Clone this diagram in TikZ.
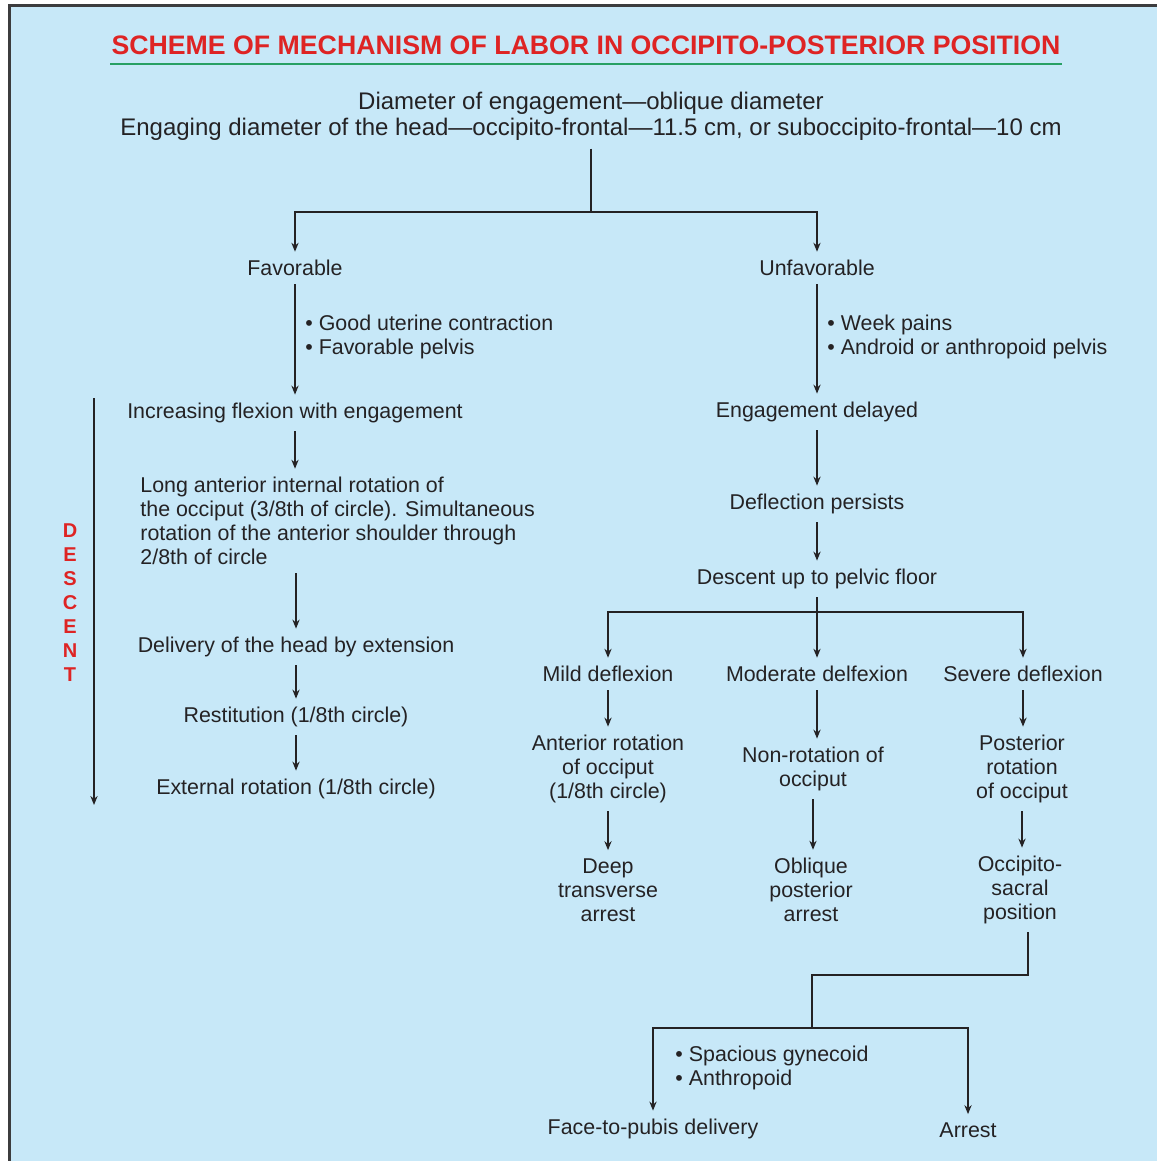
\documentclass[tikz,border=0pt]{standalone}
\usepackage{fontspec}
\setmainfont{Liberation Sans}
\usetikzlibrary{arrows.meta}
\definecolor{bg}{RGB}{199,232,248}
\definecolor{ink}{RGB}{36,34,36}
\definecolor{titlered}{RGB}{222,36,36}
\definecolor{rulegreen}{RGB}{40,160,100}
\definecolor{frame}{RGB}{60,60,62}
\tikzset{txt/.style={text=ink,inner sep=4pt,font=\fontsize{10.7}{12}\selectfont},
  ln/.style={draw=ink,line width=0.8pt}}

\begin{document}
\begin{tikzpicture}[x=0.5pt,y=-0.5pt,>={Stealth[length=4.5pt,width=3.6pt]},every node/.style={txt}]
\useasboundingbox (0,0) rectangle (1157,1161);
\fill[white] (0,0) rectangle (1157,1161); \fill[bg] (9,6) rectangle (1157,1161);
\draw[frame,line width=1.5pt] (9,1161) -- (9,6) -- (1157,6);
\node[font=\fontsize{13.35}{16}\selectfont\bfseries,text=titlered] (title) at (586,45) {SCHEME OF MECHANISM OF LABOR IN OCCIPITO-POSTERIOR POSITION};
\draw[rulegreen,line width=1pt] (110,64) -- (1062,64);
\node[align=center,font=\fontsize{12}{13}\selectfont] (diam) at (591,116) {Diameter of engagement—oblique diameter\\Engaging diameter of the head—occipito-frontal—11.5 cm, or suboccipito-frontal—10 cm};
\node (fav) at (295,268) {Favorable}; \node (unfav) at (817,268) {Unfavorable};
\node[anchor=west,align=left] (goodp) at (297,337) {• Good uterine contraction\\• Favorable pelvis};
\node[anchor=west,align=left] (badp) at (819,337) {• Week pains\\• Android or anthropoid pelvis};
\node (incr) at (295,413) {Increasing flexion with engagement};
\node[anchor=west,align=left] (long) at (132,521) {Long anterior internal rotation of\\the occiput (3/8th of circle). Simultaneous\\rotation of the anterior shoulder through\\2/8th of circle};
\node (dlv) at (296,647) {Delivery of the head by extension};
\node (rest) at (296,717) {Restitution (1/8th circle)};
\node (ext) at (296,789) {External rotation (1/8th circle)};
\node[font=\fontsize{10}{12}\selectfont\bfseries,text=titlered,align=center] (descent) at (70,603) {D\\E\\S\\C\\E\\N\\T};
\node (eng) at (817,412) {Engagement delayed}; \node (defl) at (817,504) {Deflection persists};
\node (desc) at (817,579) {Descent up to pelvic floor};
\node (mild) at (608,674) {Mild deflexion}; \node (mod) at (817,674) {Moderate delfexion}; \node (sev) at (1023,674) {Severe deflexion};
\node[align=center] (ant) at (608,769) {Anterior rotation\\of occiput\\(1/8th circle)};
\node[align=center] (nonrot) at (813,769) {Non-rotation of\\occiput};
\node[align=center] (post) at (1022,769) {Posterior\\rotation\\of occiput};
\node[align=center] (deep) at (608,890) {Deep\\transverse\\arrest};
\node[align=center] (obl) at (811,890) {Oblique\\posterior\\arrest};
\node[align=center] (occ) at (1020,890) {Occipito-\\sacral\\position};
\node[anchor=west,align=left] (pelv) at (667,1068) {• Spacious gynecoid\\• Anthropoid};
\node (face) at (653,1129) {Face-to-pubis delivery}; \node (arrest) at (968,1130) {Arrest};
\coordinate (split1) at (591,212); \coordinate (split2) at (817,612);
\coordinate (bend) at (1028,975); \coordinate (split3) at (812,1028);
\coordinate (dtop) at (94,398); \coordinate (dbot) at (94,805);
\draw[ln] (diam) -- (split1); \draw[ln,->] (split1) -| (fav); \draw[ln,->] (split1) -| (unfav);
\draw[ln,->] (fav) -- (incr); \draw[ln,->] (incr.south) -- (incr.south |- long.north);
\draw[ln,->] (dlv.north |- long.south) -- (dlv); \draw[ln,->] (dlv) -- (rest); \draw[ln,->] (rest) -- (ext);
\draw[ln,->] (dtop) -- (dbot);
\draw[ln,->] (unfav) -- (eng); \draw[ln,->] (eng) -- (defl); \draw[ln,->] (defl) -- (desc);
\draw[ln,->] (desc) -- (mod); \draw[ln,->] (split2) -| (mild); \draw[ln,->] (split2) -| (sev);
\draw[ln,->] (mild) -- (ant); \draw[ln,->] (mod.south) -- (mod.south |- nonrot.north); \draw[ln,->] (sev.south) -- (sev.south |- post.north);
\draw[ln,->] (ant) -- (deep); \draw[ln,->] (nonrot.south) -- (nonrot.south |- obl.north); \draw[ln,->] (post.south) -- (post.south |- occ.north);
\draw[ln] (occ.south -| bend) -- (bend) -| (split3);
\draw[ln,->] (split3) -| (face); \draw[ln,->] (split3) -| (arrest);
\end{tikzpicture}
\end{document}
